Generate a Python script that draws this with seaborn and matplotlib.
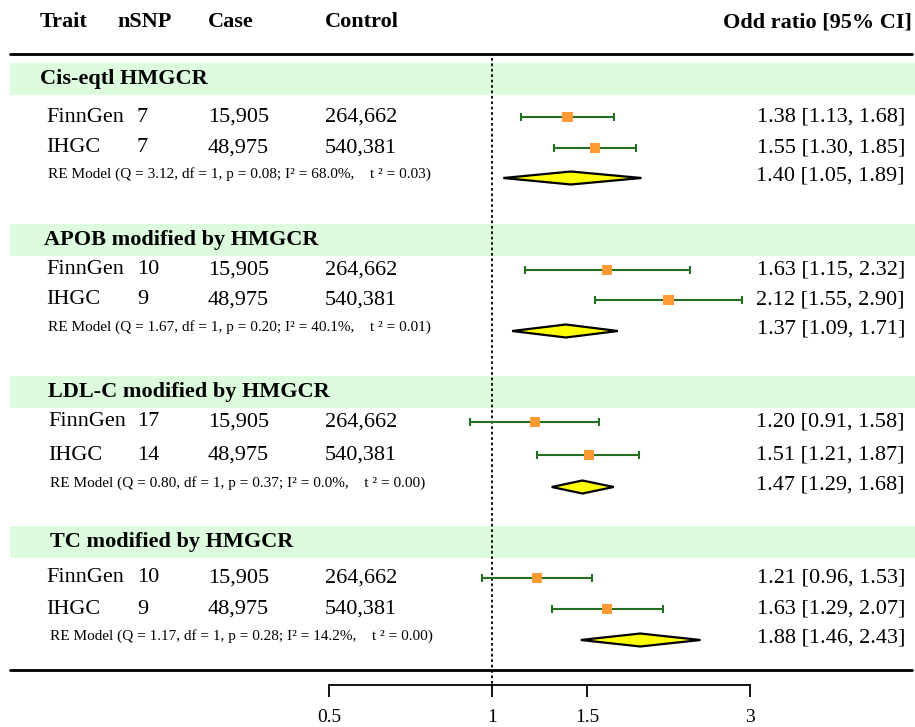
import numpy as np
import pandas as pd
import matplotlib
matplotlib.use("Agg")
import matplotlib.pyplot as plt
import seaborn as sns
from matplotlib.ticker import NullLocator
from matplotlib.transforms import blended_transform_factory

# ---- data -------------------------------------------------------------
traits = ["Cis-eqtl HMGCR", "APOB modified by HMGCR",
          "LDL-C modified by HMGCR", "TC modified by HMGCR"]
cohorts = ["FinnGen", "IHGC"]
nsnp = [[7, 7], [10, 9], [17, 14], [10, 9]]
cases = ["15,905", "48,975"]
controls = ["264,662", "540,381"]

or_est = [[1.38, 1.55], [1.63, 2.12], [1.20, 1.51], [1.21, 1.63]]
or_lo = [[1.13, 1.30], [1.15, 1.55], [0.91, 1.21], [0.96, 1.29]]
or_hi = [[1.68, 1.85], [2.32, 2.90], [1.58, 1.87], [1.53, 2.07]]

re_est = [1.40, 1.37, 1.47, 1.88]
re_lo = [1.05, 1.09, 1.29, 1.46]
re_hi = [1.89, 1.71, 1.68, 2.43]
re_q = [3.12, 1.67, 0.80, 1.17]
re_p = [0.08, 0.20, 0.37, 0.28]
re_i2 = [68.0, 40.1, 0.0, 14.2]
re_tau2 = [0.03, 0.01, 0.00, 0.00]

x_ticks = [0.5, 1, 1.5, 3]
x_ticklabels = ["0.5", "1", "1.5", "3"]

# ---- layout (pixel rows, top = 0) --------------------------------------
W, H = 915, 727
y_label = [79, 240, 392, 542]
y_rows = [[117, 148], [270, 300], [422, 455], [578, 609]]
y_re = [178, 331, 487, 640]
x_label = [40, 44, 48, 50]
x_cohort = [46, 46, 48, 46]
x_re = [48, 48, 50, 50]
y_axis = 685

sns.set_theme(style="white")
plt.rcParams["font.family"] = ["Liberation Serif", "DejaVu Serif"]
plt.rcParams["text.color"] = "black"
plt.rcParams["xtick.color"] = "black"
plt.rcParams["xtick.labelcolor"] = "black"

fig = plt.figure(figsize=(W / 100, H / 100), dpi=100)
ax = fig.add_axes([0, 0, 1, 1])
ax.set_xscale("log")

# long table of study-level estimates
rows = []
for g in range(len(traits)):
    for c in range(len(cohorts)):
        rows.append(dict(trait=traits[g], cohort=cohorts[c],
                         est=or_est[g][c], lo=or_lo[g][c], hi=or_hi[g][c],
                         y=y_rows[g][c]))
df = pd.DataFrame(rows)

# group header bands
for yl in y_label:
    ax.axhspan(yl - 16, yl + 16, xmin=10 / W, xmax=1, color="#DDFCDD",
               lw=0, zorder=0)

# confidence intervals
ax.errorbar(df["est"], df["y"],
            xerr=[df["est"] - df["lo"], df["hi"] - df["est"]],
            fmt="none", ecolor="#237023", elinewidth=1.5,
            capsize=3, capthick=1.5, zorder=2)

# point estimates
sns.scatterplot(data=df, x="est", y="y", marker="s", s=55,
                color="#FF9933", edgecolor="none", ax=ax, zorder=3,
                legend=False)

# pooled random-effects diamonds
for g in range(len(traits)):
    yc = y_re[g]
    ax.fill([re_lo[g], re_est[g], re_hi[g], re_est[g]],
            [yc, yc - 6.5, yc, yc + 6.5],
            facecolor="#FFFF00", edgecolor="black", lw=1.6,
            joinstyle="miter", zorder=3)

# reference line at OR = 1
ax.vlines(1, 58, y_axis, colors="black", linestyles=(0, (1.5, 1.5)),
          lw=1.3, zorder=1)

# horizontal rules
ax.axhline(54, xmin=10 / W, xmax=912 / W, color="black", lw=2)
ax.axhline(670, xmin=10 / W, xmax=912 / W, color="black", lw=2)

# scale: 0.5 and 3 sit at fixed pixel columns
px0, px1 = 329, 750
k = (px1 - px0) / np.log(6)
ax.set_xlim(0.5 * np.exp(-px0 / k), 0.5 * np.exp((W - px0) / k))
ax.set_ylim(H, 0)

for s in ["top", "left", "right"]:
    ax.spines[s].set_visible(False)
ax.spines["bottom"].set_position(("data", y_axis))
ax.spines["bottom"].set_bounds(0.5, 3)
ax.spines["bottom"].set_color("black")
ax.spines["bottom"].set_linewidth(1.3)
ax.set_xticks(x_ticks)
ax.set_xticklabels(x_ticklabels)
ax.xaxis.set_minor_locator(NullLocator())
ax.tick_params(axis="x", direction="out", length=8.6, width=1.3,
               color="black", pad=9, labelsize=14, bottom=True)
ax.set_yticks([])
ax.set_xlabel("")
ax.set_ylabel("")

# ---- text --------------------------------------------------------------
tr = blended_transform_factory(ax.transAxes, ax.transData)

def put(xpx, y, s, **kw):
    ax.text(xpx / W, y, s, transform=tr, va="center", color="black", **kw)

hdr = dict(fontsize=16, fontweight="bold")
put(40, 22, "Trait", **hdr)
put(117, 22, "nSNP", **hdr)
put(208, 22, "Case", **hdr)
put(325, 22, "Control", **hdr)
put(912, 22, "Odd ratio [95% CI]", ha="right", **hdr)

for g in range(len(traits)):
    put(x_label[g], y_label[g], traits[g], fontsize=16, fontweight="bold")
    for c in range(len(cohorts)):
        yy = y_rows[g][c]
        put(x_cohort[g], yy, cohorts[c], fontsize=16)
        put(137, yy, str(nsnp[g][c]), fontsize=16)
        put(208, yy, cases[c], fontsize=16)
        put(325, yy, controls[c], fontsize=16)
        put(905, yy, f"{or_est[g][c]:.2f} [{or_lo[g][c]:.2f}, {or_hi[g][c]:.2f}]",
            ha="right", fontsize=16)
    re_txt = (f"RE Model (Q = {re_q[g]:.2f}, df = 1, p = {re_p[g]:.2f}; "
              f"I\u00b2 = {re_i2[g]:.1f}%,    t \u00b2 = {re_tau2[g]:.2f})")
    put(x_re[g], y_re[g] - 4, re_txt, fontsize=11)
    put(905, y_re[g] - 2, f"{re_est[g]:.2f} [{re_lo[g]:.2f}, {re_hi[g]:.2f}]",
        ha="right", fontsize=16)

fig.savefig("out.png", dpi=100)
